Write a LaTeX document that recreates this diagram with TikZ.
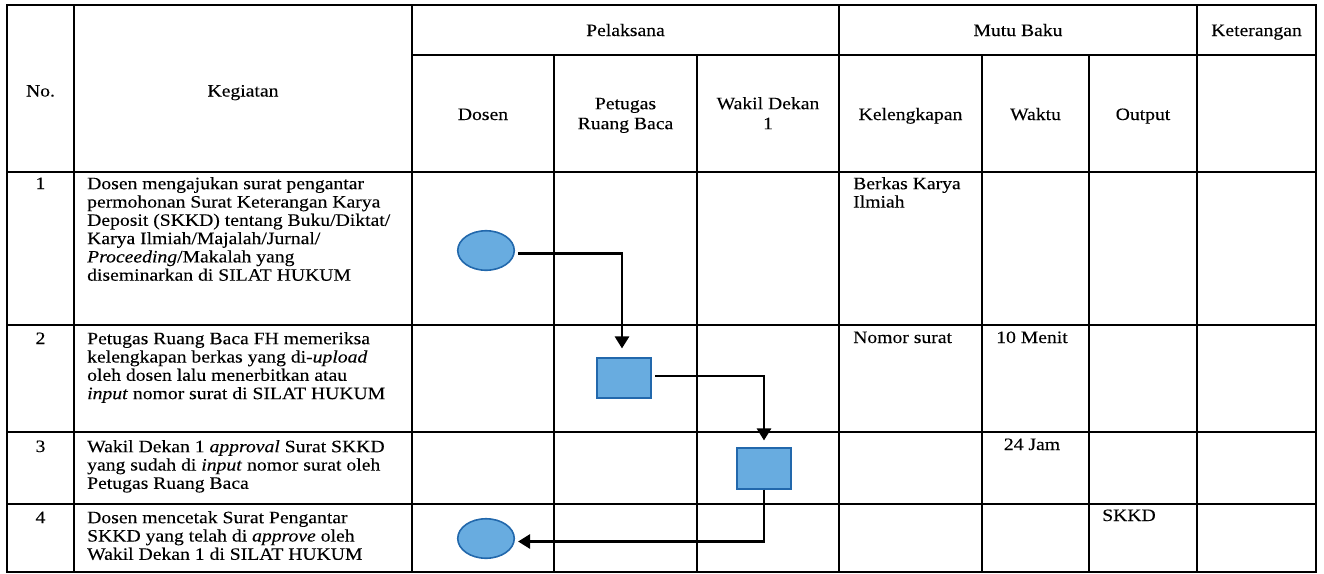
\documentclass[tikz,border=0pt]{standalone}
\usepackage{fontspec}
\setmainfont{Liberation Serif}[FakeStretch=1.13,FakeBold=0.15]
\usetikzlibrary{arrows.meta,shapes.geometric}

\definecolor{shapefill}{RGB}{104,172,224}
\definecolor{shapeedge}{RGB}{34,104,172}

\begin{document}
\begin{tikzpicture}[x=1pt,y=-1pt,
  grid/.style={line width=1.2pt,black},
  txt/.style={font=\fontsize{17.4}{18.3}\selectfont,inner sep=0pt},
  hd/.style={txt,anchor=base},
  hdtwo/.style={font=\fontsize{17.4}{20}\selectfont,inner sep=0pt,align=center,anchor=north},
  body/.style={txt,align=left,anchor=north west},
  cellL/.style={txt,anchor=base west},
  cellC/.style={txt,anchor=base},
  term/.style={ellipse,draw=shapeedge,fill=shapefill,line width=1.6pt,
    minimum width=56.5pt,minimum height=39.5pt,inner sep=0pt},
  proc/.style={rectangle,draw=shapeedge,fill=shapefill,line width=1.6pt,
    minimum width=54.5pt,minimum height=40.5pt,inner sep=0pt},
  flow/.style={line width=2.8pt,black,-{Triangle[length=12pt,width=14pt]}}
]
\useasboundingbox (0,0) rectangle (1324,573);
\fill[white] (0,0) rectangle (1324,573);

% table frame and rules
\draw[grid] (7,5) rectangle (1316,572);
\draw[grid] (412,55) -- (1316,55);
\foreach \yy in {172,325,432,504} \draw[grid] (7,\yy) -- (1316,\yy);
\foreach \xx in {74,412,839,1197} \draw[grid] (\xx,5) -- (\xx,572);
\foreach \xx in {554,697,982,1089} \draw[grid] (\xx,55) -- (\xx,572);

% header
\node[hd] (hno) at (40.5,96.5) {No.};
\node[hd] (hkeg) at (243,96.5) {Kegiatan};
\node[hd] (hpel) at (625.5,36) {Pelaksana};
\node[hd] (hmutu) at (1018,36) {Mutu Baku};
\node[hd] (hket) at (1256.5,36) {Keterangan};
\node[hd] (hdos) at (483,120) {Dosen};
\node[hdtwo] (hpet) at (625.5,95) {\strut Petugas\\Ruang Baca};
\node[hdtwo] (hwak) at (768,95) {\strut Wakil Dekan\\1};
\node[hd] (hkel) at (910.5,120) {Kelengkapan};
\node[hd] (hwak2) at (1035.5,120) {Waktu};
\node[hd] (hout) at (1143,120) {Output};

% row numbers
\node[cellC] (n1) at (40.5,189) {1};
\node[cellC] (n2) at (40.5,344) {2};
\node[cellC] (n3) at (40.5,452) {3};
\node[cellC] (n4) at (40.5,523) {4};

% activities
\node[body] (k1) at (87,176.2) {\strut Dosen mengajukan surat pengantar\\
  permohonan Surat Keterangan Karya\\
  Deposit (SKKD) tentang Buku/Diktat/\\
  Karya Ilmiah/Majalah/Jurnal/\\
  \textit{Proceeding}/Makalah yang\\
  diseminarkan di SILAT HUKUM};
\node[body] (k2) at (87,331.2) {\strut Petugas Ruang Baca FH memeriksa\\
  kelengkapan berkas yang di-\textit{upload}\\
  oleh dosen lalu menerbitkan atau\\
  \textit{input} nomor surat di SILAT HUKUM};
\node[body] (k3) at (87,439.2) {\strut Wakil Dekan 1 \textit{approval} Surat SKKD\\
  yang sudah di \textit{input} nomor surat oleh\\
  Petugas Ruang Baca};
\node[body] (k4) at (87,510.2) {\strut Dosen mencetak Surat Pengantar\\
  SKKD yang telah di \textit{approve} oleh\\
  Wakil Dekan 1 di SILAT HUKUM};

% quality standards
\node[body] (m1) at (853,176.2) {\strut Berkas Karya\\Ilmiah};
\node[cellL] (m2) at (853,343) {Nomor surat};
\node[cellC] (w2) at (1032,343) {10 Menit};
\node[cellC] (w3) at (1032,450) {24 Jam};
\node[cellL] (o4) at (1102,521) {SKKD};

% flow shapes
\node[term] (e1) at (486,250.5) {};
\node[proc] (r2) at (624,378) {};
\node[proc] (r3) at (764,468.5) {};
\node[term] (e2) at (486,538.5) {};

% connectors
\draw[flow,shorten <=3pt,shorten >=8.5pt] ([yshift=-3pt]e1.east) -| ([xshift=-2pt]r2.north);
\draw[flow,shorten <=3pt,shorten >=7pt] ([yshift=2pt]r2.east) -| (r3.north);
\draw[flow,shorten >=3pt] (r3.south) |- ([yshift=-3pt]e2.east);
\end{tikzpicture}
\end{document}
